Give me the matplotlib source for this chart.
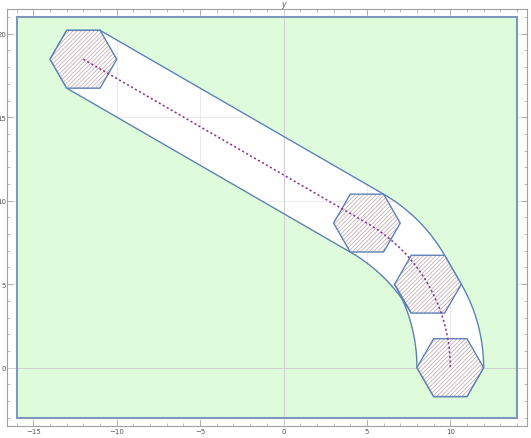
import matplotlib
matplotlib.use("Agg")
import matplotlib.pyplot as plt
import matplotlib.transforms as mtransforms
from matplotlib.path import Path
from matplotlib.patches import PathPatch, Polygon
import numpy as np

# geometry
rect_x = [-16, 14]
rect_y = [-3, 21]
hex_radius = 2.0
arc_radius = 10.0
arc_angles_deg = [60, 30, 0]          # hexagons placed on the arc
line_length = 19.63                   # straight run before the arc
hex_vertex_deg = [0, 60, 120, 180, 240, 300]
major_ticks_x = [-15, -10, -5, 0, 5, 10]
major_ticks_y = [0, 5, 10, 15, 20]

plt.rcParams["hatch.linewidth"] = 0.5

BLUE = "#5e81b5"
GREEN = "#defcdc"
HATCH = "#b8a2a8"
PURPLE = "#8e2c8e"


def pol(r, deg, c=(0.0, 0.0)):
    a = np.deg2rad(deg)
    return np.array([c[0] + r * np.cos(a), c[1] + r * np.sin(a)])


def vert(k):
    return pol(hex_radius, hex_vertex_deg[k])


def arc(center, start, stop, n=60):
    t = np.linspace(start, stop, n)
    return np.column_stack([center[0] + arc_radius * np.cos(np.deg2rad(t)),
                            center[1] + arc_radius * np.sin(np.deg2rad(t))])


# path: straight line tangent at 60 deg, then arc down to 0 deg
tangent_pt = pol(arc_radius, arc_angles_deg[0])
direction = np.array([-np.sin(np.deg2rad(60)), np.cos(np.deg2rad(60))])
start_pt = tangent_pt + line_length * direction
end_pt = pol(arc_radius, arc_angles_deg[-1])
centers = [start_pt] + [pol(arc_radius, a) for a in arc_angles_deg]

# outline of the swept band (hexagon dragged along the path), ccw
pts = [start_pt + vert(1), start_pt + vert(2), start_pt + vert(3),
       start_pt + vert(4)]
pts += list(arc(vert(4), 60, 30))
pts += list(arc(vert(3), 30, 0))
pts += [end_pt + vert(4), end_pt + vert(5), end_pt + vert(0)]
pts += list(arc(vert(0), 0, 30))
pts += list(arc(vert(1), 30, 60))
pts += [start_pt + vert(1)]
band = np.array(pts)

fig = plt.figure(figsize=(5.31, 4.39), dpi=100)
ax = fig.add_axes([0.0126, 0.028, 0.9799, 0.949])
ax.set_xlim(-16.6, 14.6)
ax.set_ylim(-3.48, 21.48)

# faint grid (only seen through the band)
for g in major_ticks_x:
    if g != 0:
        ax.axvline(g, color="#e6e6e6", lw=0.6, zorder=0)
for g in major_ticks_y:
    if g != 0:
        ax.axhline(g, color="#e6e6e6", lw=0.6, zorder=0)

# green region = rectangle minus band
rect = np.array([[rect_x[0], rect_y[0]], [rect_x[0], rect_y[1]],
                 [rect_x[1], rect_y[1]], [rect_x[1], rect_y[0]],
                 [rect_x[0], rect_y[0]]])
verts = np.vstack([rect, band])
codes = ([Path.MOVETO] + [Path.LINETO] * 3 + [Path.CLOSEPOLY]
         + [Path.MOVETO] + [Path.LINETO] * (len(band) - 2) + [Path.CLOSEPOLY])
ax.add_patch(PathPatch(Path(verts, codes), facecolor=GREEN,
                       edgecolor="none", zorder=1))
ax.add_patch(Polygon(rect[:-1], closed=True, facecolor="none",
                     edgecolor="#7f97bb", lw=1.5, zorder=3))
ax.plot(band[:, 0], band[:, 1], color=BLUE, lw=1.0, zorder=3)

# axes through origin
ax.axvline(0, color="#cfcfcf", lw=0.7, zorder=2)
ax.axhline(0, color="#cfcfcf", lw=0.7, zorder=2)

# hatched hexagons
for c in centers:
    hv = np.array([c + vert(k) for k in range(6)])
    ax.add_patch(Polygon(hv, closed=True, facecolor="white",
                         edgecolor=HATCH, hatch="////////", lw=0, zorder=4))
    ax.add_patch(Polygon(hv, closed=True, facecolor="none",
                         edgecolor=BLUE, lw=1.0, zorder=5))

# dotted centre line
cl = np.vstack([start_pt, arc((0, 0), 60, 0)])
ax.plot(cl[:, 0], cl[:, 1], color=PURPLE, lw=1.1,
        linestyle=(0, (1.4, 1.6)), zorder=6)

# frame and ticks
for s in ax.spines.values():
    s.set_color("#a0a0a0")
    s.set_linewidth(0.8)
ax.set_xticks(major_ticks_x)
ax.set_yticks(major_ticks_y)
ax.set_xticks(np.arange(-16, 15, 1), minor=True)
ax.set_yticks(np.arange(-3, 22, 1), minor=True)
ax.tick_params(which="both", direction="in", top=True, right=True,
               color="#a0a0a0", labelsize=5, labelcolor="#555555", pad=2)
ax.tick_params(which="major", length=4, width=0.6)
ax.tick_params(which="minor", length=2.5, width=0.5)
ax.tick_params(axis="y", pad=0.5)

trans = mtransforms.blended_transform_factory(ax.transData, ax.transAxes)
ax.text(0, 1.013, "y", transform=trans, ha="center", va="center",
        fontsize=5.5, style="italic", color="#555555")

fig.savefig("out.png", dpi=100)
